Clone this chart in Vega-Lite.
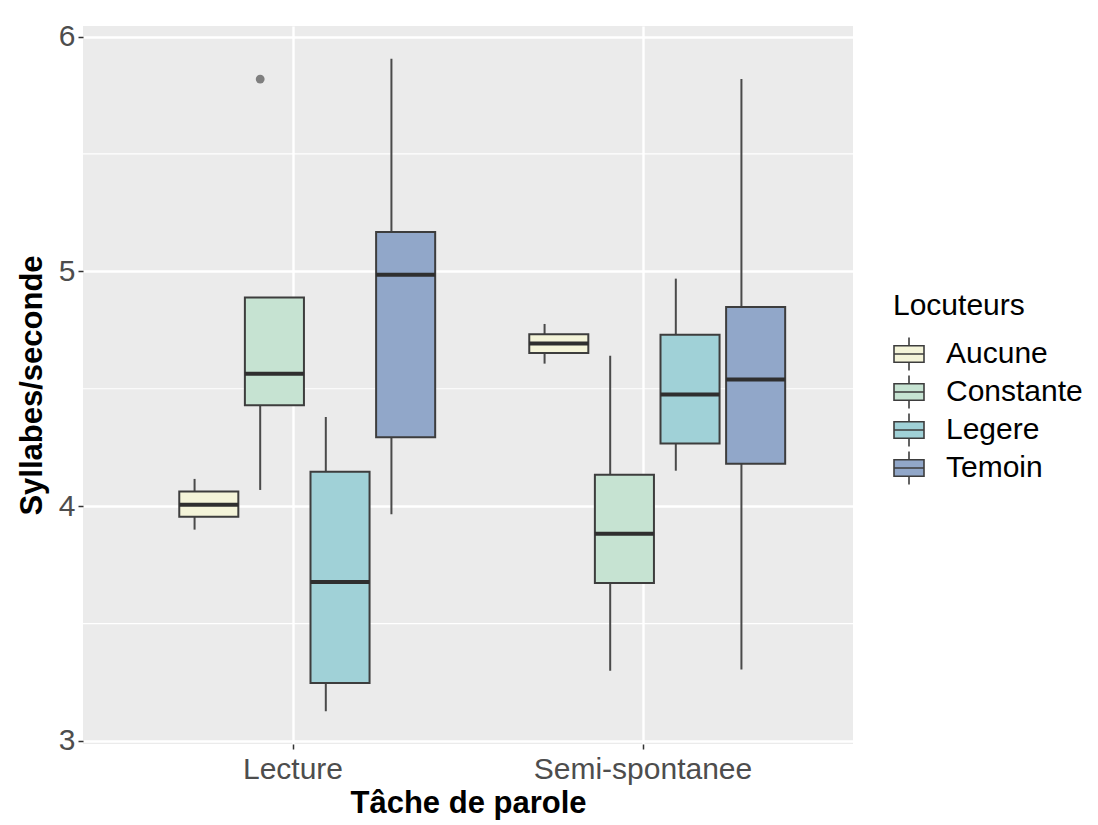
{
  "$schema": "https://vega.github.io/schema/vega-lite/v6.json",
  "autosize": {"type": "none"},
  "width": 770,
  "height": 718,
  "padding": {"left": 83, "top": 26, "right": 245, "bottom": 81},
  "background": "white",
  "config": {
    "font": "Liberation Sans",
    "view": {"fill": "#ebebeb", "stroke": null}
  },
  "datasets": {
    "stats": [
      {"task": "Lecture", "group": "Aucune", "lo": 3.90, "q1": 3.955, "med": 4.006, "q3": 4.062, "hi": 4.116},
      {"task": "Lecture", "group": "Constante", "lo": 4.069, "q1": 4.43, "med": 4.564, "q3": 4.889, "hi": 4.889},
      {"task": "Lecture", "group": "Legere", "lo": 3.126, "q1": 3.247, "med": 3.677, "q3": 4.146, "hi": 4.38},
      {"task": "Lecture", "group": "Temoin", "lo": 3.965, "q1": 4.293, "med": 4.986, "q3": 5.168, "hi": 5.906},
      {"task": "Semi-spontanee", "group": "Aucune", "lo": 4.607, "q1": 4.652, "med": 4.693, "q3": 4.732, "hi": 4.776},
      {"task": "Semi-spontanee", "group": "Constante", "lo": 3.299, "q1": 3.673, "med": 3.882, "q3": 4.134, "hi": 4.641},
      {"task": "Semi-spontanee", "group": "Legere", "lo": 4.151, "q1": 4.267, "med": 4.476, "q3": 4.73, "hi": 4.969},
      {"task": "Semi-spontanee", "group": "Temoin", "lo": 3.304, "q1": 4.181, "med": 4.539, "q3": 4.848, "hi": 5.819}
    ],
    "outliers": [
      {"task": "Lecture", "group": "Constante", "value": 5.819}
    ],
    "minorgrid": [
      {"g": 3.5}, {"g": 4.5}, {"g": 5.5}
    ]
  },
  "layer": [
    {
      "data": {"name": "minorgrid"},
      "mark": {"type": "rule", "color": "white", "strokeWidth": 1.2},
      "encoding": {
        "y": {
          "field": "g",
          "type": "quantitative",
          "scale": {"domain": [2.987, 6.045], "nice": false, "zero": false},
          "axis": {
            "title": "Syllabes/seconde",
            "titleFontSize": 31,
            "titleFontWeight": "bold",
            "titleColor": "black",
            "titlePadding": 10,
            "values": [3, 4, 5, 6],
            "format": "d",
            "labelFontSize": 30,
            "labelColor": "#4d4d4d",
            "labelPadding": 3,
            "tickSize": 5,
            "tickColor": "#333333",
            "tickWidth": 1.5,
            "domain": false,
            "grid": true,
            "gridColor": "white",
            "gridWidth": 2.4
          }
        }
      }
    },
    {
      "data": {"name": "stats"},
      "mark": {"type": "rule", "color": "#4a4a4a", "strokeWidth": 2},
      "encoding": {
        "x": {
          "field": "task",
          "type": "nominal",
          "scale": {"type": "band", "paddingInner": 0, "paddingOuter": 0.1},
          "axis": {
            "title": "Tâche de parole",
            "titleFontSize": 31,
            "titleFontWeight": "bold",
            "titleColor": "black",
            "titlePadding": 4,
            "labelFontSize": 30,
            "labelColor": "#4d4d4d",
            "labelAngle": 0,
            "labelPadding": 5,
            "labelLimit": 0,
            "tickSize": 5,
            "tickColor": "#333333",
            "tickWidth": 1.5,
            "domain": false,
            "grid": true,
            "gridColor": "white",
            "gridWidth": 2.4,
            "bandPosition": 0.5
          }
        },
        "xOffset": {
          "field": "group",
          "type": "nominal",
          "scale": {"paddingInner": 0, "paddingOuter": 0.667}
        },
        "y": {"field": "lo", "type": "quantitative"},
        "y2": {"field": "hi"}
      }
    },
    {
      "data": {"name": "stats"},
      "mark": {"type": "bar", "width": {"band": 0.9}, "stroke": "#3d3d3d", "strokeWidth": 2},
      "encoding": {
        "x": {"field": "task", "type": "nominal"},
        "xOffset": {"field": "group", "type": "nominal"},
        "y": {"field": "q1", "type": "quantitative"},
        "y2": {"field": "q3"},
        "fill": {
          "field": "group",
          "type": "nominal",
          "scale": {"domain": ["Aucune", "Constante", "Legere", "Temoin"], "range": ["#f4f4d9", "#c6e3d2", "#a0d1d7", "#91a7c9"]},
          "legend": {
            "title": "Locuteurs",
            "orient": "none",
            "legendX": 810,
            "legendY": 265,
            "titleFontSize": 30,
            "titleFontWeight": "normal",
            "titleColor": "black",
            "titlePadding": 17,
            "labelFontSize": 30,
            "labelColor": "black",
            "labelOffset": 21,
            "symbolType": "M-1,-0.55H1V0.55H-1Z M-1,0H1 M0,-0.55V-1.1 M0,0.55V1.1",
            "symbolSize": 900,
            "symbolStrokeColor": "#3d3d3d",
            "symbolStrokeWidth": 1.6,
            "symbolOpacity": 1,
            "rowPadding": -2
          }
        }
      }
    },
    {
      "data": {"name": "stats"},
      "mark": {"type": "bar", "width": {"band": 0.9}, "stroke": "#2f2f2f", "strokeWidth": 4, "fill": "#2f2f2f"},
      "encoding": {
        "x": {"field": "task", "type": "nominal"},
        "xOffset": {"field": "group", "type": "nominal"},
        "y": {"field": "med", "type": "quantitative"},
        "y2": {"field": "med"}
      }
    },
    {
      "data": {"name": "outliers"},
      "mark": {"type": "point", "filled": true, "color": "#7f7f7f", "size": 78, "opacity": 1},
      "encoding": {
        "x": {"field": "task", "type": "nominal"},
        "xOffset": {"field": "group", "type": "nominal"},
        "y": {"field": "value", "type": "quantitative"}
      }
    }
  ]
}
